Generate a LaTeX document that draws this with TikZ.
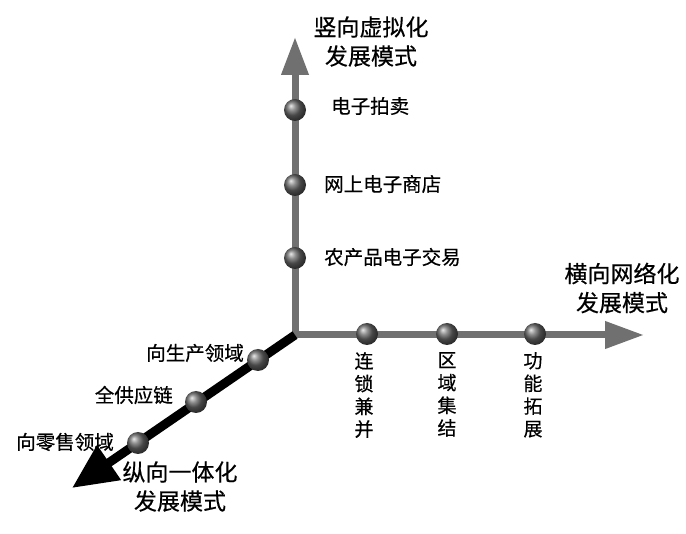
\documentclass[tikz,border=0pt]{standalone}
\usepackage{fontspec}
\setmainfont{Noto Sans CJK SC}[FakeBold=0.4]
\usetikzlibrary{arrows.meta}
\definecolor{axisgray}{RGB}{112,112,112}
\begin{document}
\begin{tikzpicture}[x=1pt,y=-1pt,
  dot/.style={circle,inner sep=0pt,minimum size=22pt,shading=ball,ball color=black!60},
  lbl/.style={font=\fontsize{19.5}{22}\selectfont,inner sep=0pt},
  ttl/.style={font=\fontsize{23}{29}\selectfont,align=center,inner sep=0pt},
  vlbl/.style={font=\fontsize{19}{22.7}\selectfont,align=center,inner sep=0pt,anchor=north}]
\useasboundingbox[fill=white] (0,0) rectangle (686,534);
\coordinate (O) at (295,335);
\coordinate (V) at (295,37);
\coordinate (H) at (644,335);
\coordinate (D) at (72,488);
% axes
\draw[axisgray,line width=7pt,{Triangle[length=38pt,width=26pt]}-{Triangle[length=39pt,width=26pt]}] (V) -- (O) -- (H);
\draw[black,line width=9pt,-{Triangle[length=45pt,width=40pt]}] (O) -- (D);
% dots vertical
\node[dot] (v1) at (295,110) {};
\node[dot] (v2) at (295,185) {};
\node[dot] (v3) at (295,258) {};
% dots horizontal
\node[dot] (h1) at (367,334) {};
\node[dot] (h2) at (447,334) {};
\node[dot] (h3) at (535,334) {};
% dots diagonal
\node[dot] (d1) at (258,360) {};
\node[dot] (d2) at (196,402) {};
\node[dot] (d3) at (138,443) {};
% titles
\node[ttl] (tv) at (371,41.5) {竖向虚拟化\\发展模式};
\node[ttl] (th) at (622,288) {横向网络化\\发展模式};
\node[ttl] (td) at (180,486.5) {纵向一体化\\发展模式};
% vertical axis labels
\node[lbl,anchor=west] (lv1) at (331,106) {电子拍卖};
\node[lbl,anchor=west] (lv2) at (324,184) {网上电子商店};
\node[lbl,anchor=west] (lv3) at (324,257) {农产品电子交易};
% horizontal axis labels
\node[vlbl] (lh1) at (364,352) {连\\锁\\兼\\并};
\node[vlbl] (lh2) at (447,352) {区\\域\\集\\结};
\node[vlbl] (lh3) at (533,352) {功\\能\\拓\\展};
% diagonal labels
\node[lbl,anchor=east] (ld1) at (244,353) {向生产领域};
\node[lbl,anchor=east] (ld2) at (173,395) {全供应链};
\node[lbl,anchor=east] (ld3) at (114,442) {向零售领域};
\end{tikzpicture}
\end{document}
